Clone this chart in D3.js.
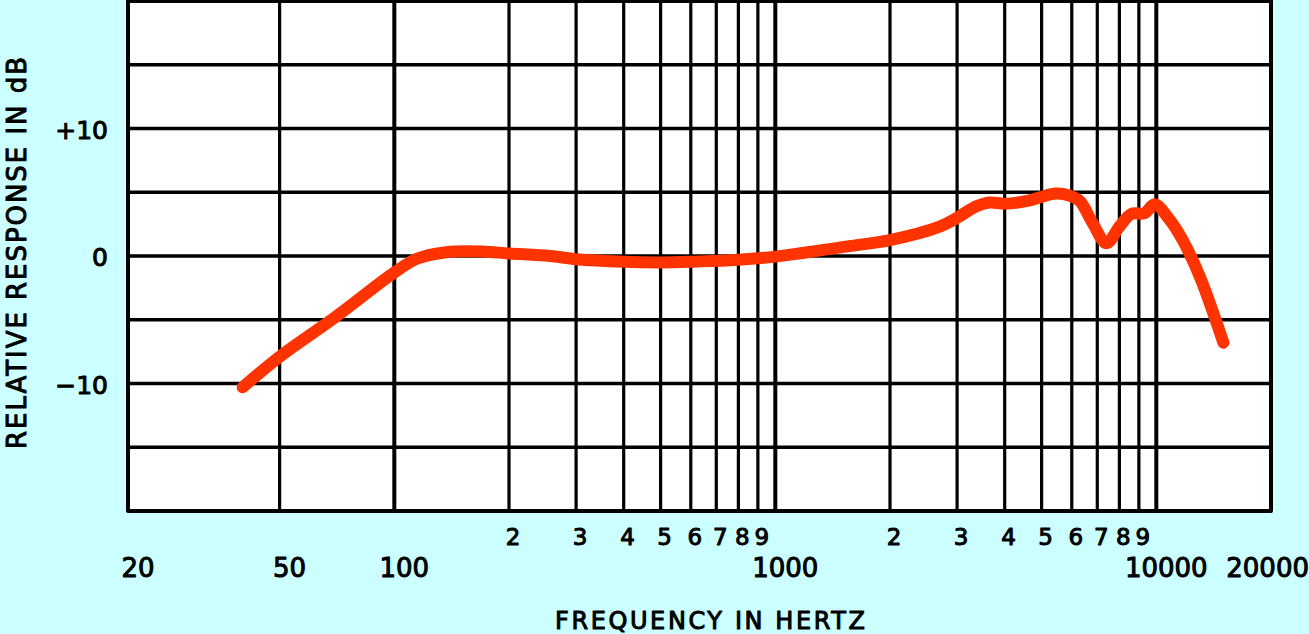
<!DOCTYPE html>
<html>
<head>
<meta charset="utf-8">
<script src="https://cdn.jsdelivr.net/npm/d3@7"></script>
<style>
  html, body { margin: 0; padding: 0; background: #ccffff; }
  svg { display: block; }
  text { font-family: "DejaVu Sans", "Liberation Sans", Arial, sans-serif; fill: #000; stroke: #000; stroke-width: 1px; stroke-linejoin: round; }
</style>
</head>
<body>
<svg id="chart" width="1309" height="634"></svg>
<script>
// ---- data ----
const frequencies = [40, 50, 70, 100, 115, 137, 170, 200, 256, 300, 400, 500, 600, 800, 1000, 1500, 2000, 2700, 3000, 3370, 3650, 4000, 4550, 4950, 5450, 5900, 6300, 6800, 7400, 8000, 8600, 9300, 9900, 10800, 11700, 13000, 15000];
const responseDb = [-10.3, -7.9, -4.8, -1.3, -0.2, 0.3, 0.35, 0.2, 0.0, -0.25, -0.45, -0.5, -0.45, -0.3, -0.05, 0.7, 1.25, 2.3, 3.0, 3.9, 4.2, 4.1, 4.3, 4.6, 4.9, 4.75, 4.3, 2.6, 1.0, 2.3, 3.3, 3.35, 4.05, 2.9, 1.3, -1.6, -6.8];
const verticalGrid = [50, 100, 200, 300, 400, 500, 600, 700, 800, 900, 1000, 2000, 3000, 4000, 5000, 6000, 7000, 8000, 9000, 10000];
const decadeLines = [100, 1000, 10000];
const majorTickValues = [20, 50, 100, 1000, 10000, 20000];
const majorTickLabels = ["20", "50", "100", "1000", "10000", "20000"];
const minorTickValues = [200, 300, 400, 500, 600, 700, 800, 900, 2000, 3000, 4000, 5000, 6000, 7000, 8000, 9000];
const minorTickLabels = ["2", "3", "4", "5", "6", "7", "8", "9", "2", "3", "4", "5", "6", "7", "8", "9"];
const horizontalGrid = [-15, -10, -5, 0, 5, 10, 15];
const yTickValues = [10, 0, -10];
const yTickLabels = ["+10", "0", "\u221210"];

// ---- layout ----
const W = 1309, H = 634;
const plotL = 128, plotR = 1271, plotT = 1, plotB = 511;

const svg = d3.select("#chart");
const x = d3.scaleLog().domain([20, 20000]).range([plotL, plotR]);
const y = d3.scaleLinear().domain([-20, 20]).range([plotB, plotT]);

// plot background
svg.append("rect")
  .attr("x", plotL).attr("y", plotT)
  .attr("width", plotR - plotL).attr("height", plotB - plotT)
  .attr("fill", "#ffffff");

// horizontal grid
svg.append("g").selectAll("line").data(horizontalGrid).join("line")
  .attr("x1", plotL).attr("x2", plotR)
  .attr("y1", d => y(d)).attr("y2", d => y(d))
  .attr("stroke", "#000").attr("stroke-width", 3.3);

// vertical grid
svg.append("g").selectAll("line").data(verticalGrid).join("line")
  .attr("x1", d => x(d)).attr("x2", d => x(d))
  .attr("y1", plotT).attr("y2", plotB)
  .attr("stroke", "#000")
  .attr("stroke-width", d => decadeLines.includes(d) ? 4 : 3.2);

// frame
svg.append("rect")
  .attr("x", plotL).attr("y", plotT)
  .attr("width", plotR - plotL).attr("height", plotB - plotT)
  .attr("fill", "none").attr("stroke", "#000").attr("stroke-width", 4)
  .attr("stroke-linejoin", "round");

// response curve
const pts = frequencies.map((f, i) => [f, responseDb[i]]);
const line = d3.line()
  .x(d => x(d[0])).y(d => y(d[1]))
  .curve(d3.curveCatmullRom.alpha(0.5));
svg.append("path")
  .attr("d", line(pts))
  .attr("fill", "none")
  .attr("stroke", "#ff3300")
  .attr("stroke-width", 12)
  .attr("stroke-linecap", "round")
  .attr("stroke-linejoin", "round");

// major x labels
svg.append("g").selectAll("text").data(majorTickValues).join("text")
  .attr("x", (d, i) => i === majorTickValues.length - 1 ? W : x(d) + 10)
  .attr("y", 577)
  .attr("text-anchor", (d, i) => i === majorTickValues.length - 1 ? "end" : "middle")
  .attr("font-size", 26)
  .text((d, i) => majorTickLabels[i]);

// minor x labels
svg.append("g").selectAll("text").data(minorTickValues).join("text")
  .attr("x", d => x(d) + 4)
  .attr("y", 545)
  .attr("text-anchor", "middle")
  .attr("font-size", 23)
  .text((d, i) => minorTickLabels[i]);

// y labels
svg.append("g").selectAll("text").data(yTickValues).join("text")
  .attr("x", 108)
  .attr("y", d => y(d) + 10)
  .attr("text-anchor", "end")
  .attr("font-size", 25)
  .text((d, i) => yTickLabels[i]);

// axis titles
svg.append("text")
  .attr("x", 555).attr("y", 629)
  .attr("font-size", 24)
  .attr("textLength", 310).attr("lengthAdjust", "spacing")
  .text("FREQUENCY IN HERTZ");

svg.append("text")
  .attr("transform", "translate(26,449) rotate(-90)")
  .attr("font-size", 26)
  .attr("textLength", 392).attr("lengthAdjust", "spacing")
  .text("RELATIVE RESPONSE IN dB");
</script>
</body>
</html>
